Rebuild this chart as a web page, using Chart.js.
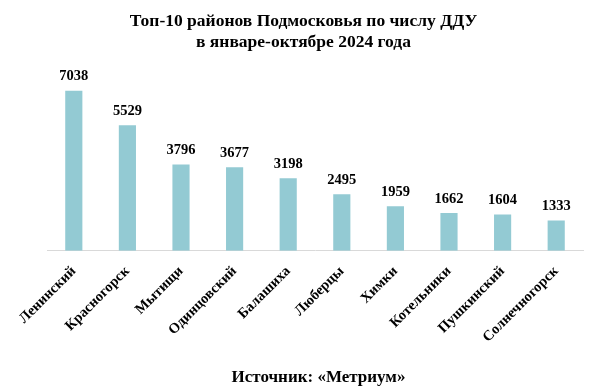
<!DOCTYPE html>
<html>
<head>
<meta charset="utf-8">
<script src="https://cdn.jsdelivr.net/npm/chart.js@4.4.1/dist/chart.umd.min.js"></script>
<style>
  html, body { margin: 0; padding: 0; background: #ffffff; }
  #wrap { width: 607px; height: 391px; position: relative; }
</style>
</head>
<body>
<div id="wrap"><canvas id="chart"></canvas></div>
<script>
const districts = ['Ленинский', 'Красногорск', 'Мытищи', 'Одинцовский', 'Балашиха', 'Люберцы', 'Химки', 'Котельники', 'Пушкинский', 'Солнечногорск'];
const dduCount = [7038, 5529, 3796, 3677, 3198, 2495, 1959, 1662, 1604, 1333];
const titleLines = ['Топ-10 районов Подмосковья по числу ДДУ', 'в январе-октябре 2024 года'];
const sourceText = 'Источник: «Метриум»';

const SERIF = '"Liberation Serif", "Times New Roman", serif';

// подписи значений над столбцами + заголовок и источник
const textPlugin = {
    id: 'textPlugin',
    afterDatasetsDraw: (chart) => {
        const { ctx } = chart;
        const meta = chart.getDatasetMeta(0);
        ctx.save();
        ctx.fillStyle = '#000000';
        ctx.font = 'bold 14.5px ' + SERIF;
        ctx.textAlign = 'center';
        ctx.textBaseline = 'bottom';
        meta.data.forEach((bar, i) => {
            ctx.fillText(String(dduCount[i]), bar.x, bar.y - 7);
        });
        ctx.restore();
    },
    afterDraw: (chart) => {
        const { ctx } = chart;
        ctx.save();
        ctx.fillStyle = '#000000';
        ctx.textAlign = 'center';
        ctx.textBaseline = 'middle';
        ctx.font = 'bold 17.5px ' + SERIF;
        ctx.fillText(titleLines[0], chart.width / 2, 21);
        ctx.fillText(titleLines[1], chart.width / 2, 42);
        ctx.font = 'bold 17px ' + SERIF;
        ctx.fillText(sourceText, chart.width / 2 + 15, 378);
        ctx.restore();
    },
};

new Chart(document.getElementById('chart'), {
    type: 'bar',
    data: {
        labels: districts,
        datasets: [
            {
                label: 'ДДУ',
                data: dduCount,
                backgroundColor: '#93CAD3',
                borderWidth: 0,
                barPercentage: 0.32,
                categoryPercentage: 1.0,
            },
        ],
    },
    options: {
        responsive: true,
        maintainAspectRatio: false,
        animation: false,
        layout: {
            padding: { top: 69, left: 47, right: 24, bottom: 41 },
        },
        plugins: {
            legend: { display: false },
            title: { display: false },
            tooltip: { enabled: false },
        },
        scales: {
            x: {
                grid: { display: false },
                border: { display: true, color: '#D9D9D9', width: 1 },
                ticks: {
                    color: '#000000',
                    font: { family: SERIF, size: 14.5, weight: 'bold' },
                    minRotation: 45,
                    maxRotation: 45,
                    padding: 4,
                    autoSkip: false,
                },
            },
            y: {
                display: false,
                min: 0,
                max: 8000,
            },
        },
    },
    plugins: [textPlugin],
});
</script>
</body>
</html>
